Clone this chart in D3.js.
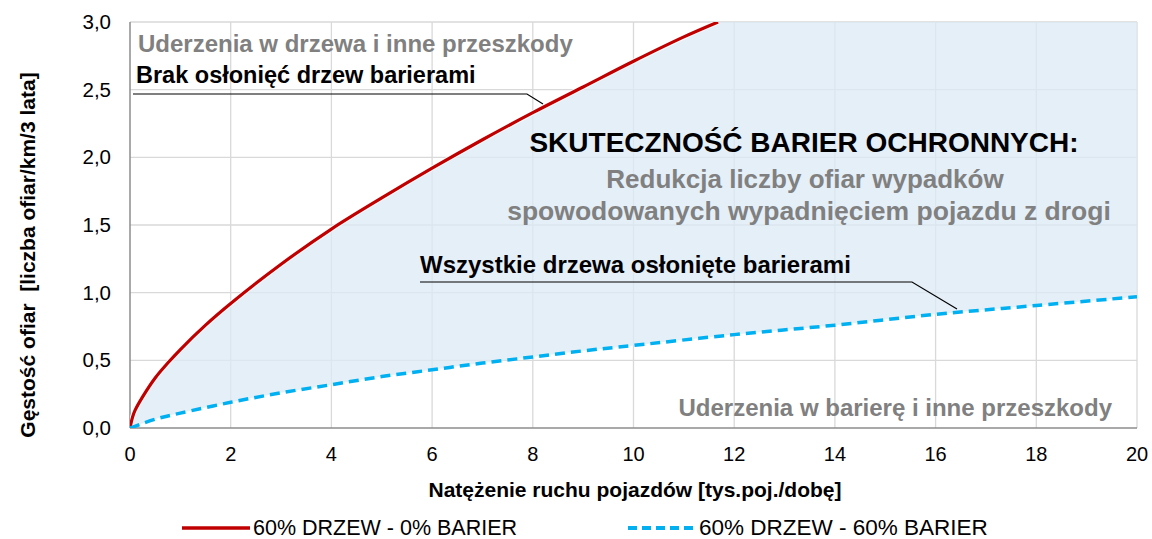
<!DOCTYPE html>
<html>
<head>
<meta charset="utf-8">
<script src="https://cdn.jsdelivr.net/npm/d3@7"></script>
<style>
  body { margin: 0; background: #fff; }
  svg { font-family: "Liberation Sans", Arial, sans-serif; }
</style>
</head>
<body>
<svg width="1152" height="539"></svg>
<script>
// data
const redX = [0, 0.05, 0.1, 0.25, 0.5, 0.75, 1, 1.5, 2, 3, 4, 5, 6, 7, 8, 9, 10, 11, 11.68];
const redY = [0, 0.08, 0.13, 0.23, 0.37, 0.48, 0.58, 0.76, 0.92, 1.21, 1.47, 1.70, 1.92, 2.13, 2.33, 2.52, 2.71, 2.89, 3.0];
const blueX = [0, 0.5, 1, 2, 3, 4, 5, 6, 7, 8, 9, 10, 12, 14, 16, 18, 20];
const blueY = [0, 0.065, 0.11, 0.19, 0.26, 0.32, 0.38, 0.43, 0.48, 0.525, 0.57, 0.61, 0.69, 0.76, 0.84, 0.905, 0.97];
const xTicks = [0, 2, 4, 6, 8, 10, 12, 14, 16, 18, 20];
const yTicks = [0, 0.5, 1, 1.5, 2, 2.5, 3];
const seriesNames = ["60% DRZEW - 0% BARIER", "60% DRZEW - 60% BARIER"];

const RED = "#c00000";
const BLUE = "#00b0f0";

const svg = d3.select("svg");
const plotL = 130, plotR = 1137, plotT = 22, plotB = 428;

const x = d3.scaleLinear().domain([0, 20]).range([plotL, plotR]);
const y = d3.scaleLinear().domain([0, 3]).range([plotB, plotT]);

const red = redX.map((v, i) => ({ x: v, y: redY[i] }));
const blue = blueX.map((v, i) => ({ x: v, y: blueY[i] }));

svg.append("defs").append("clipPath").attr("id", "plot")
  .append("rect").attr("x", plotL).attr("y", plotT)
  .attr("width", plotR - plotL).attr("height", plotB - plotT);

// grid
const grid = svg.append("g");
grid.selectAll(".gx").data(xTicks.slice(1)).join("line")
  .attr("x1", d => x(d)).attr("x2", d => x(d))
  .attr("y1", plotT).attr("y2", plotB)
  .attr("stroke", "#d9d9d9").attr("stroke-width", 1.3);
grid.selectAll(".gy").data(yTicks.slice(1)).join("line")
  .attr("x1", plotL).attr("x2", plotR)
  .attr("y1", d => y(d)).attr("y2", d => y(d))
  .attr("stroke", "#d9d9d9").attr("stroke-width", 1.3);

// filled band between the two curves
const line = d3.line().x(d => x(d.x)).y(d => y(d.y)).curve(d3.curveCatmullRom.alpha(0.5));
const bandPath = line(red) + "L" + x(20) + "," + y(3) +
  "L" + x(20) + "," + y(blue[blue.length - 1].y) +
  line(blue.slice().reverse()).replace(/^M/, "L") + "Z";
svg.append("path").attr("d", bandPath)
  .attr("fill", "#dce9f6").attr("fill-opacity", 0.75)
  .attr("clip-path", "url(#plot)");

// axes lines
svg.append("line").attr("x1", plotL).attr("x2", plotL).attr("y1", plotT).attr("y2", plotB)
  .attr("stroke", "#8c8c8c").attr("stroke-width", 1.5);
svg.append("line").attr("x1", plotL).attr("x2", plotR).attr("y1", plotB).attr("y2", plotB)
  .attr("stroke", "#8c8c8c").attr("stroke-width", 1.5);

// tick labels
const fmt = d => d3.format(".1f")(d).replace(".", ",");
svg.append("g").selectAll("text").data(yTicks).join("text")
  .attr("x", 111).attr("y", d => y(d) + 7)
  .attr("text-anchor", "end").attr("font-size", 20.5).attr("fill", "#000")
  .text(fmt);
svg.append("g").selectAll("text").data(xTicks).join("text")
  .attr("x", d => x(d)).attr("y", 461)
  .attr("text-anchor", "middle").attr("font-size", 20).attr("fill", "#000")
  .text(d => d);

// axis titles
svg.append("text").attr("transform", "translate(35,255) rotate(-90)")
  .attr("text-anchor", "middle").attr("font-size", 21).attr("font-weight", "bold")
  .attr("xml:space", "preserve")
  .text("Gęstość ofiar  [liczba ofiar/km/3 lata]");
svg.append("text").attr("x", 635).attr("y", 497)
  .attr("text-anchor", "middle").attr("font-size", 21).attr("font-weight", "bold")
  .text("Natężenie ruchu pojazdów [tys.poj./dobę]");

// curves
const curves = svg.append("g").attr("clip-path", "url(#plot)");
curves.append("path").attr("d", line(red)).attr("fill", "none")
  .attr("stroke", "#fff").attr("stroke-width", 5);
curves.append("path").attr("d", line(red)).attr("fill", "none")
  .attr("stroke", RED).attr("stroke-width", 3.2);
curves.append("path").attr("d", line(blue)).attr("fill", "none")
  .attr("stroke", BLUE).attr("stroke-width", 3.5).attr("stroke-dasharray", "10,6");

// annotations
const grey = "#808080";
svg.append("text").attr("x", 138).attr("y", 52).attr("font-size", 24)
  .attr("font-weight", "bold").attr("fill", grey).text("Uderzenia w drzewa i inne przeszkody");
svg.append("text").attr("x", 136).attr("y", 83).attr("font-size", 23.5)
  .attr("font-weight", "bold").attr("fill", "#000").text("Brak osłonięć drzew barierami");
svg.append("polyline").attr("points", [[133, 94], [527, 94], [543, 104]].join(" "))
  .attr("fill", "none").attr("stroke", "#000").attr("stroke-width", 1.2);

svg.append("text").attr("x", 804).attr("y", 152).attr("text-anchor", "middle")
  .attr("font-size", 28).attr("font-weight", "bold").attr("fill", "#000")
  .text("SKUTECZNOŚĆ BARIER OCHRONNYCH:");
svg.append("text").attr("x", 805).attr("y", 188).attr("text-anchor", "middle")
  .attr("font-size", 26).attr("font-weight", "bold").attr("fill", grey)
  .text("Redukcja liczby ofiar wypadków");
svg.append("text").attr("x", 809).attr("y", 220).attr("text-anchor", "middle")
  .attr("font-size", 26.5).attr("font-weight", "bold").attr("fill", grey)
  .text("spowodowanych wypadnięciem pojazdu z drogi");

svg.append("text").attr("x", 420).attr("y", 273).attr("font-size", 24)
  .attr("font-weight", "bold").attr("fill", "#000").text("Wszystkie drzewa osłonięte barierami");
svg.append("polyline").attr("points", [[420, 282], [912, 282], [957, 309]].join(" "))
  .attr("fill", "none").attr("stroke", "#000").attr("stroke-width", 1.2);

svg.append("text").attr("x", 1112).attr("y", 416).attr("text-anchor", "end")
  .attr("font-size", 24).attr("font-weight", "bold").attr("fill", grey)
  .text("Uderzenia w barierę i inne przeszkody");

// legend
const legend = svg.append("g");
const items = [
  { name: seriesNames[0], color: RED, dash: null, width: 3.5, x0: 182, size: 21.5 },
  { name: seriesNames[1], color: BLUE, dash: "9,5", width: 4, x0: 628, size: 22.5 }
];
items.forEach(it => {
  legend.append("line").attr("x1", it.x0).attr("x2", it.x0 + 68)
    .attr("y1", 528).attr("y2", 528)
    .attr("stroke", it.color).attr("stroke-width", it.width)
    .attr("stroke-dasharray", it.dash);
  legend.append("text").attr("x", it.x0 + 71).attr("y", 535)
    .attr("font-size", it.size).attr("fill", "#000").text(it.name);
});
</script>
</body>
</html>
